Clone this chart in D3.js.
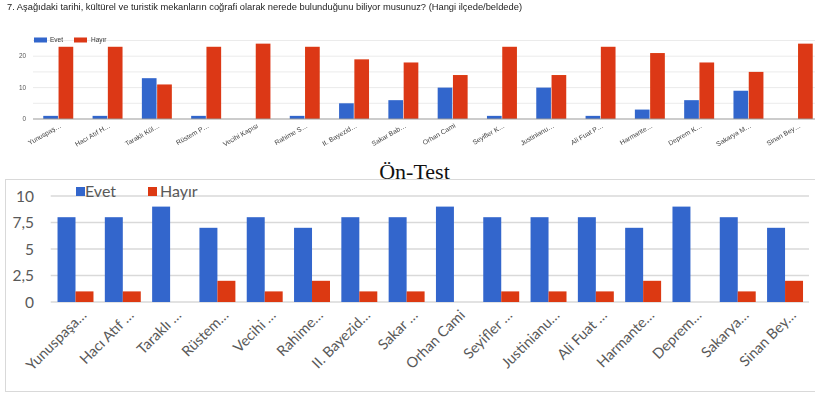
<!DOCTYPE html>
<html>
<head>
<meta charset="utf-8">
<script src="https://cdn.jsdelivr.net/npm/d3@7"></script>
<style>
  html, body { margin: 0; padding: 0; background: #fff; }
  svg { display: block; }
</style>
</head>
<body>
<svg id="chart" width="815" height="394"></svg>
<script>
// Survey question and series
const questionTitle = "7. Aşağıdaki tarihi, kültürel ve turistik mekanların coğrafi olarak nerede bulunduğunu biliyor musunuz? (Hangi ilçede/beldede)";
const seriesNames = ["Evet", "Hayır"];
const seriesColors = ["#3366cc", "#dc3912"];

// Place labels (as shortened on each chart)
const surveyLabels = ["Yunuspaş…", "Hacı Atıf H…", "Taraklı Kül…", "Rüstem P…", "Vecihi Kapısı", "Rahime S…", "II. Bayezid…", "Sakar Bab…", "Orhan Cami", "Seyifler K…", "Justinianu…", "Ali Fuat P…", "Harmante…", "Deprem K…", "Sakarya M…", "Sinan Bey…"];
const preTestLabels = ["Yunuspaşa…", "Hacı Atıf …", "Taraklı …", "Rüstem…", "Vecihi …", "Rahime…", "II. Bayezid…", "Sakar …", "Orhan Cami", "Seyifler …", "Justinianu…", "Ali Fuat …", "Harmante…", "Deprem…", "Sakarya…", "Sinan Bey…"];

// Survey responses
const surveyEvet  = [1, 1, 13, 1, 0, 1, 5, 6, 10, 1, 10, 1, 3, 6, 9, 0];
const surveyHayir = [23, 23, 11, 23, 24, 23, 19, 18, 14, 23, 14, 23, 21, 18, 15, 24];
const surveyTicks = [0, 10, 20];
const surveyGrid  = [0, 5, 10, 15, 20, 25];

// Pre-test responses
const preEvet  = [8, 8, 9, 7, 8, 7, 8, 8, 9, 8, 8, 8, 7, 9, 8, 7];
const preHayir = [1, 1, 0, 2, 1, 2, 1, 1, 0, 1, 1, 1, 2, 0, 1, 2];
const preTicks = [0, 2.5, 5, 7.5, 10];
const preTitle = "Ön-Test";

const svg = d3.select("#chart");

// soft rendering for the small survey chart
svg.append("defs").append("filter").attr("id", "soft")
  .attr("x", "-5%").attr("y", "-5%").attr("width", "110%").attr("height", "110%")
  .append("feGaussianBlur").attr("stdDeviation", 0.35);

// ---------- Upper chart (survey) ----------
const upper = svg.append("g").attr("filter", "url(#soft)");
upper.append("text")
  .attr("x", 7).attr("y", 9.5)
  .attr("font-family", "Liberation Sans, Arial, sans-serif")
  .attr("font-size", 8.8)
  .attr("textLength", 515).attr("lengthAdjust", "spacingAndGlyphs")
  .attr("fill", "#222")
  .text(questionTitle);

const idx = d3.range(surveyLabels.length);
const tx0 = d3.scaleBand().domain(idx).range([33.9, 822.7]).paddingInner(0.38).paddingOuter(0.19);
const tx1 = d3.scaleBand().domain(seriesNames).range([0, tx0.bandwidth()]);
const ty = d3.scaleLinear().domain([0, 25]).range([119, 40.5]);

upper.append("g").selectAll("line").data(surveyGrid.filter(d => d > 0)).join("line")
  .attr("x1", 33).attr("x2", 815)
  .attr("y1", d => ty(d)).attr("y2", d => ty(d))
  .attr("stroke", "#ebebeb").attr("stroke-width", 1);

upper.append("g").selectAll("text").data(surveyTicks).join("text")
  .attr("x", 26).attr("y", d => ty(d) + 2.2)
  .attr("text-anchor", "end")
  .attr("font-family", "Liberation Sans, Arial, sans-serif")
  .attr("font-size", 6.4).attr("fill", "#555")
  .text(d => d);

const upperSeries = [surveyEvet, surveyHayir];
seriesNames.forEach((s, si) => {
  upper.append("g").selectAll("rect").data(idx).join("rect")
    .attr("x", i => tx0(i) + tx1(s))
    .attr("width", tx1.bandwidth() - 0.6)
    .attr("y", i => ty(upperSeries[si][i]))
    .attr("height", i => ty(0) - ty(upperSeries[si][i]))
    .attr("fill", seriesColors[si]);
});

upper.append("line")
  .attr("x1", 33).attr("x2", 815).attr("y1", ty(0)).attr("y2", ty(0))
  .attr("stroke", "#999").attr("stroke-width", 1);

upper.append("g").selectAll("text").data(idx).join("text")
  .attr("transform", i => `translate(${tx0(i) + tx0.bandwidth() / 2 + 3},${127}) rotate(-30)`)
  .attr("text-anchor", "end")
  .attr("font-family", "Liberation Sans, Arial, sans-serif")
  .attr("font-size", 6.8).attr("fill", "#444")
  .text(i => surveyLabels[i]);

// legend
[[34, 50], [74, 91]].forEach(([sx, lx], si) => {
  upper.append("rect").attr("x", sx).attr("y", 37.5).attr("width", 13).attr("height", 5)
    .attr("fill", seriesColors[si]);
  upper.append("text").attr("x", lx).attr("y", 42.4)
    .attr("font-family", "Liberation Sans, Arial, sans-serif")
    .attr("font-size", 6.5).attr("fill", "#333")
    .text(seriesNames[si]);
});

// ---------- Lower chart (pre-test) ----------
const lower = svg.append("g");
lower.append("rect")
  .attr("x", 5.5).attr("y", 179.5).attr("width", 815).attr("height", 212)
  .attr("fill", "none").attr("stroke", "#d9d9d9").attr("stroke-width", 1);

lower.append("text")
  .attr("x", 414.5).attr("y", 178.5)
  .attr("text-anchor", "middle")
  .attr("font-family", "Liberation Serif, Times New Roman, serif")
  .attr("font-size", 22).attr("fill", "#111")
  .text(preTitle);

const bx0 = d3.scaleBand().domain(idx).range([51.85, 808.7]).paddingInner(0.24).paddingOuter(0.12);
const bx1 = d3.scaleBand().domain(seriesNames).range([0, bx0.bandwidth()]);
const by = d3.scaleLinear().domain([0, 10]).range([302, 196]);
const fmt = d => String(d).replace(".", ",");

lower.append("g").selectAll("line").data(preTicks).join("line")
  .attr("x1", 50.7).attr("x2", 809)
  .attr("y1", d => by(d)).attr("y2", d => by(d))
  .attr("stroke", "#d9d9d9").attr("stroke-width", 1.5);

lower.append("g").selectAll("text").data(preTicks).join("text")
  .attr("x", 34).attr("y", d => by(d) + 5.5)
  .attr("text-anchor", "end")
  .attr("font-family", "Lato, sans-serif")
  .attr("font-size", 15.5).attr("fill", "#595959")
  .text(fmt);

const lowerSeries = [preEvet, preHayir];
seriesNames.forEach((s, si) => {
  lower.append("g").selectAll("rect").data(idx).join("rect")
    .attr("x", i => bx0(i) + bx1(s))
    .attr("width", bx1.bandwidth())
    .attr("y", i => by(lowerSeries[si][i]))
    .attr("height", i => by(0) - by(lowerSeries[si][i]))
    .attr("fill", seriesColors[si]);
});

lower.append("g").selectAll("text").data(idx).join("text")
  .attr("transform", i => `translate(${bx0(i) + bx0.bandwidth() / 2 + 12},${316}) rotate(-45)`)
  .attr("text-anchor", "end")
  .attr("font-family", "Lato, sans-serif")
  .attr("font-size", 14.5).attr("fill", "#595959")
  .text(i => preTestLabels[i]);

// legend
[[76, 85], [148, 160]].forEach(([sx, lx], si) => {
  lower.append("rect").attr("x", sx).attr("y", 187).attr("width", 9).attr("height", 9)
    .attr("fill", seriesColors[si]);
  lower.append("text").attr("x", lx).attr("y", 197)
    .attr("font-family", "Lato, sans-serif")
    .attr("font-size", 16).attr("fill", "#595959")
    .text(seriesNames[si]);
});
</script>
</body>
</html>
